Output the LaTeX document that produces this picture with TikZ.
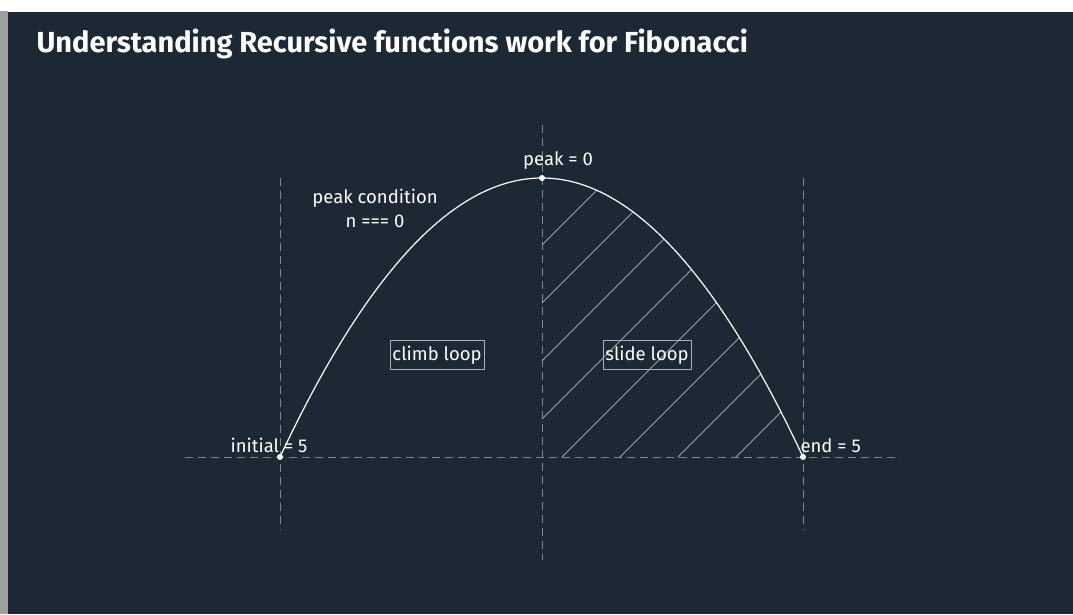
\documentclass[tikz,border=0pt]{standalone}
\usepackage{fontspec}
\setmainfont{Fira Sans}
\usetikzlibrary{positioning}
\definecolor{bgdark}{HTML}{1C2834}
\definecolor{guidegrey}{HTML}{7D8894}
\definecolor{hatchgrey}{HTML}{9AA3AC}
\definecolor{boxgrey}{HTML}{A8B0B8}
\tikzset{
  guide/.style={guidegrey,line width=0.8pt,dash pattern=on 8pt off 5pt},
  hatch/.style={hatchgrey,line width=0.8pt},
  arc line/.style={white,line width=1.2pt},
  loopbox/.style={draw=boxgrey,line width=0.8pt,minimum height=29pt,inner xsep=2pt},
  dot/.style={fill=white}
}

\begin{document}
\begin{tikzpicture}[x=1pt,y=-1pt,font=\fontsize{18.5}{24}\selectfont,text=white]
\useasboundingbox (0,0) rectangle (1073,614);
%frame
\fill[white] (0,0) rectangle (1073,11);
\fill[gray!75] (0,11) rectangle (8,614);
\fill[bgdark] (8,12) rectangle (1073,614);

\node[anchor=base west,font=\fontsize{29}{34}\selectfont\bfseries] (title) at (33,52)
  {Understanding Recursive functions work for Fibonacci};

\coordinate (init) at (280,457);
\coordinate (peak) at (542,178);
\coordinate (end) at (803,457);

%guides
\draw[guide] (init) ++(-95,0) -- ++(715,0);
\draw[guide] (init) ++(0,-279) -- ++(0,352);
\draw[guide] (peak) ++(0,-53) -- ++(0,435);
\draw[guide] (end) ++(0,-279) -- ++(0,352);

%hatched half
\begin{scope}
\clip (peak) .. controls (629,178) and (716,271) .. (end) -- (peak |- end) -- cycle;
\foreach \c in {787,845,...,1193}
  \draw[hatch] (\c-500,500) -- (\c-100,100);
\end{scope}

\draw[arc line] (init) .. controls (367.3,271) and (454.7,178) .. (peak)
  .. controls (629,178) and (716,271) .. (end);
\fill[dot] (init) circle (3);
\fill[dot] (peak) circle (3);
\fill[dot] (end) circle (3);

\node[anchor=base] (peaklbl) at (558,165) {peak = 0};
\node[align=center] (cond) at (375,208) {peak condition\\n === 0};
\node[anchor=base east] (initlbl) at (311,452) {initial = 5};
\node[anchor=base west] (endlbl) at (797,452) {end = 5};

\node[loopbox,minimum width=94pt] (climb) at (437,355) {climb loop};
\node[loopbox,minimum width=88pt] (slide) at (647,355) {slide loop};
\end{tikzpicture}
\end{document}
